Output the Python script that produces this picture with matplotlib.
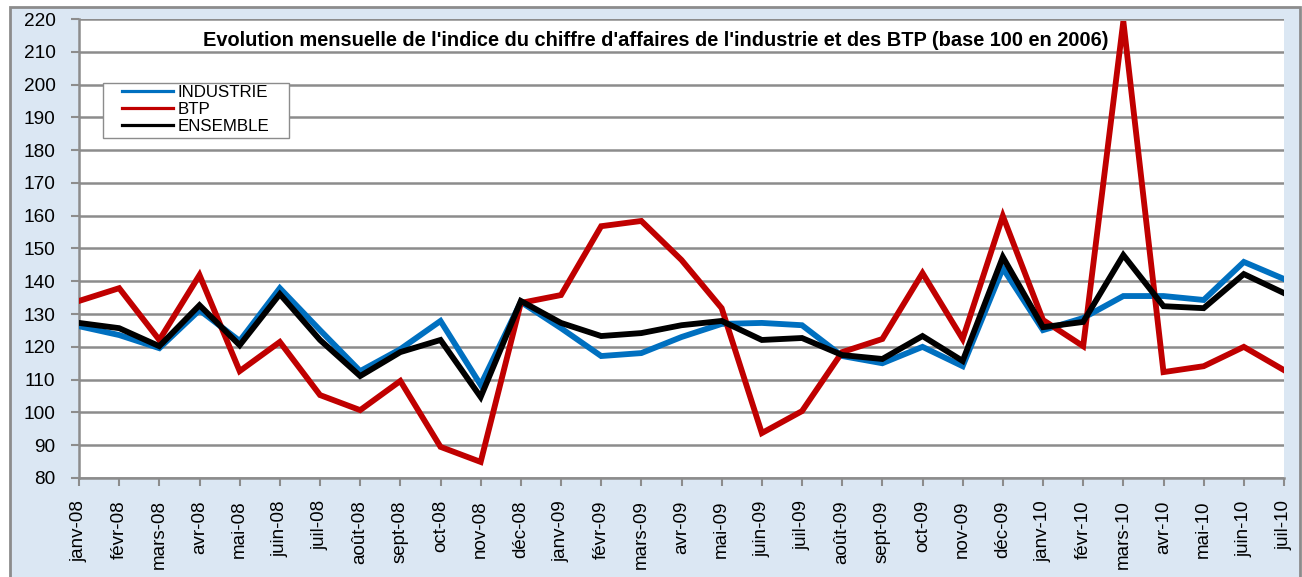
import matplotlib
matplotlib.use("Agg")
import matplotlib.pyplot as plt
from matplotlib.patches import Rectangle
from matplotlib.lines import Line2D

months = ["janv-08", "févr-08", "mars-08", "avr-08", "mai-08", "juin-08", "juil-08", "août-08",
          "sept-08", "oct-08", "nov-08", "déc-08", "janv-09", "févr-09", "mars-09", "avr-09",
          "mai-09", "juin-09", "juil-09", "août-09", "sept-09", "oct-09", "nov-09", "déc-09",
          "janv-10", "févr-10", "mars-10", "avr-10", "mai-10", "juin-10", "juil-10"]

industrie = [126.3, 123.6, 119.6, 131.2, 121.8, 137.9, 125.1, 112.6, 119.3, 127.9, 108.4, 133.7,
             125.7, 117.2, 118.1, 123.0, 127.0, 127.3, 126.6, 117.2, 115.0, 120.0, 114.1, 144.0,
             125.1, 128.8, 135.5, 135.5, 134.3, 145.9, 140.7]

btp = [134.0, 137.9, 122.1, 141.9, 112.6, 121.5, 105.3, 100.7, 109.6, 89.5, 84.9, 133.4,
       135.8, 156.8, 158.4, 146.5, 131.8, 93.7, 100.4, 118.4, 122.4, 142.5, 122.4, 159.9,
       128.2, 120.2, 219.3, 112.3, 114.1, 120.0, 112.9]

ensemble = [127.3, 125.7, 120.2, 132.7, 120.5, 136.1, 122.1, 111.1, 118.4, 122.1, 104.7, 134.0,
            127.3, 123.3, 124.2, 126.6, 127.9, 122.1, 122.7, 117.5, 116.3, 123.3, 115.7, 147.4,
            126.0, 127.6, 148.0, 132.4, 131.8, 142.2, 136.4]

series_names = ["INDUSTRIE", "BTP", "ENSEMBLE"]
colors = ["#0070C0", "#C00000", "#000000"]

yticks = list(range(80, 221, 10))
title = "Evolution mensuelle de l'indice du chiffre d'affaires de l'industrie et des BTP (base 100 en 2006)"

plt.rcParams['font.family'] = ['Liberation Sans', 'DejaVu Sans']

W, H = 1302, 577
fig = plt.figure(figsize=(W / 100, H / 100), dpi=100)
fig.patch.set_facecolor("white")
bg = Rectangle((10 / W, -0.01), (1300 - 10) / W, 1.01 - 7 / H, transform=fig.transFigure,
               facecolor="#dbe7f3", edgecolor="#8c8c8c", linewidth=2.0, zorder=-10)
fig.add_artist(bg)

L, R, T, B = 79, 1284, 19, 478
ax = fig.add_axes([L / W, 1 - B / H, (R - L) / W, (B - T) / H])
ax.set_zorder(5)
ax.set_facecolor("white")

def axx(px):
    return (px - L) / (R - L)

def axy(py):
    return (B - py) / (B - T)

x = list(range(len(months)))
ax.plot(x, industrie, color=colors[0], lw=4.2, solid_joinstyle="miter", zorder=3)
ax.plot(x, btp, color=colors[1], lw=4.2, solid_joinstyle="miter", zorder=3)
ax.plot(x, ensemble, color=colors[2], lw=4.2, solid_joinstyle="miter", zorder=4)

ax.set_xlim(0, len(months) - 1)
ax.set_ylim(80, 220)
ax.set_yticks(yticks)
ax.set_yticklabels([str(v) for v in yticks], fontsize=13.7)
ax.set_xticks(x)
ax.set_xticklabels(months, rotation=90, fontsize=13.5)
ax.yaxis.grid(True, color="#8c8c8c", linewidth=1.8)
ax.set_axisbelow(True)
for s in ["top", "right"]:
    ax.spines[s].set_visible(False)
for s in ["left", "bottom"]:
    ax.spines[s].set_color("#8c8c8c")
    ax.spines[s].set_linewidth(1.8)
ax.tick_params(axis="both", direction="out", length=6, width=1.5, color="#8c8c8c")
ax.tick_params(axis="x", pad=10)
ax.tick_params(axis="y", pad=11)

ax.text(axx(656), axy(40), title, transform=ax.transAxes, ha="center", va="center",
        fontsize=14.4, fontweight="bold")

# legend frame
frame = Rectangle((axx(103), axy(138)), axx(289) - axx(103), axy(83) - axy(138),
                  transform=ax.transAxes, facecolor="white", edgecolor="#8c8c8c",
                  linewidth=1.0, zorder=6)
ax.add_patch(frame)
handles = [Line2D([0], [0], color=c, lw=2.3) for c in colors]
leg = ax.legend(handles, series_names, loc="upper left", bbox_to_anchor=(axx(122), axy(85)),
                fontsize=12.2, frameon=False, handlelength=3.0, handletextpad=0.3,
                labelspacing=0.12, borderpad=0, borderaxespad=0)
leg.set_zorder(7)

fig.savefig("out.png", dpi=100)
